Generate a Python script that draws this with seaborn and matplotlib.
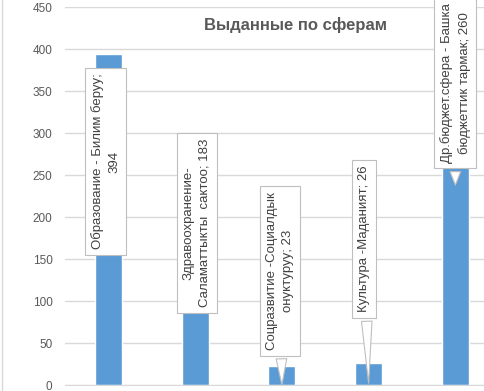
import matplotlib.pyplot as plt
import pandas as pd
import seaborn as sns

# Chart data
categories = [
    "Образование - Билим беруу",
    "Здравоохранение-\nСаламаттыкты  сактоо",
    "Соцразвитие -Социалдык\nонуктуруу",
    "Культура -Маданият",
    "Др.бюджет.сфера - Башка\nбюджеттик тармак",
]
values = [394, 183, 23, 26, 260]
y_ticks = [0, 50, 100, 150, 200, 250, 300, 350, 400, 450]
title = "Выданные по сферам"

# Callout placement (box centre x/y, pointer tip y) in data units
box_x = [-0.03, 1.02, 1.98, 2.95, 4.0]
box_y = [266, 193, 136, 174, 360]
tip_y = [None, None, 0, 2, 238]

sns.set_style("white")
plt.rcParams["font.family"] = ["Liberation Sans", "DejaVu Sans"]

df = pd.DataFrame({"category": categories, "value": values})

fig = plt.figure(figsize=(4.84, 3.91), dpi=100)
ax = fig.add_axes([65 / 484, 6 / 391, 419 / 484, 378 / 391])

sns.barplot(data=df, x="category", y="value", color="#5b9bd5", width=0.31,
            saturation=1, ax=ax, zorder=2)

ax.set_xlim(-0.5, 4.33)
ax.set_ylim(0, 450)
ax.set_yticks(y_ticks)
ax.set_yticklabels(y_ticks, fontsize=8.5, color="#595959")
ax.tick_params(axis="y", length=0, pad=9)
ax.set_xticks([])
ax.set_xlabel("")
ax.set_ylabel("")
ax.yaxis.grid(True, color="#d9d9d9", linewidth=1, zorder=0)
for side in ["top", "right", "left"]:
    ax.spines[side].set_visible(False)
ax.spines["bottom"].set_color("#d9d9d9")
ax.spines["bottom"].set_zorder(3)

# Data labels as callouts
for i, (cat, val) in enumerate(zip(categories, values)):
    if i == 0:
        text = f"{cat};\n{val}"
    else:
        text = f"{cat}; {val}"
    xy = (box_x[i], box_y[i])
    arrow = None
    if tip_y[i] is not None:
        xy = (i, tip_y[i])
        arrow = dict(arrowstyle="wedge,tail_width=0.8", fc="white",
                     ec="#bfbfbf", lw=0.8, shrinkB=0)
    ax.annotate(
        text,
        xy=xy,
        xytext=(box_x[i], box_y[i]),
        textcoords="data",
        rotation=90,
        ha="center",
        va="center",
        multialignment="center",
        linespacing=1.45,
        fontsize=9.5,
        color="#404040",
        bbox=dict(boxstyle="square,pad=0.45", fc="white", ec="#bfbfbf", lw=0.8),
        arrowprops=arrow,
        zorder=4,
    )

fig.text(296 / 484, 1 - 25 / 391, title, ha="center", va="center",
         fontsize=12, fontweight="bold", color="#595959")

# Chart frame on the left edge
fig.add_artist(plt.Line2D([2 / 484, 2 / 484], [0, 1], color="#d9d9d9",
                          linewidth=1, transform=fig.transFigure))

fig.savefig("out.png", dpi=100)
